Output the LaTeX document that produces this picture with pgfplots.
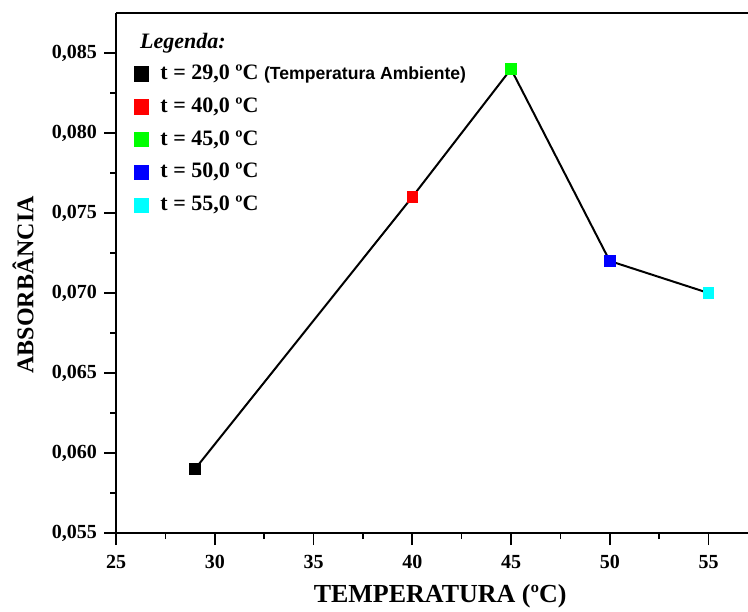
\documentclass[border=0pt]{standalone}
\usepackage{pgfplots}
\pgfplotsset{compat=1.18}
\usepackage{fontspec}
\setmainfont{Liberation Serif}
\newfontfamily\arial{Liberation Sans}
\definecolor{cyanp}{RGB}{0,255,255}
\definecolor{greenp}{RGB}{0,255,0}
\definecolor{bluep}{RGB}{0,0,255}
\definecolor{redp}{RGB}{255,0,0}
\begin{document}
\begin{tikzpicture}
\useasboundingbox (0,0) rectangle (374pt,305.5pt);
\begin{axis}[
  at={(58pt,39pt)}, anchor=south west,
  scale only axis, width=316pt, height=260pt,
  xmin=25, xmax=57, ymin=0.055, ymax=0.0875,
  axis x line*=box, axis y line*=left,
  x axis line style={-}, y axis line style={-},
  axis line style={line width=1pt},
  every tick/.style={black, line width=0.8pt},
  tick align=outside,
  xtick pos=bottom, ytick pos=left,
  major tick length=6pt, minor tick length=3pt,
  xtick={25,30,...,55},
  ytick={0.055,0.060,0.065,0.070,0.075,0.080,0.085},
  minor x tick num=1, minor y tick num=1,
  scaled y ticks=false,
  yticklabel style={/pgf/number format/.cd, fixed, fixed zerofill, precision=3, use comma},
  xticklabel style={yshift=-1.5pt},
  /pgf/number format/assume math mode=true,
  ticklabel style={font=\bfseries\fontsize{10}{12}\selectfont},
  xlabel={TEMPERATURA (ºC)},
  ylabel={ABSORBÂNCIA},
  xlabel style={font=\bfseries\fontsize{13}{15}\selectfont, at={(axis description cs:0.513,-0.121)}, anchor=center},
  ylabel style={font=\bfseries\fontsize{12}{14}\selectfont, at={(axis description cs:-0.147,0.477)}, anchor=center},
  legend image code/.code={\draw[#1] plot coordinates {(3.6pt,0pt)};},
  legend style={at={(axis description cs:0.028,0.906)}, anchor=north west,
    draw=none, fill=none, inner sep=0pt, row sep=4.6pt,
    font=\bfseries\fontsize{11}{12}\selectfont,
    nodes={inner sep=1pt, text height=7.6pt, text depth=2.2pt},
    /tikz/every odd column/.append style={column sep=5pt}},
  legend cell align=left,
]
\addplot[black, line width=1pt, mark=none, forget plot] coordinates {
 (29,0.059) (40,0.076) (45,0.084) (50,0.072) (55,0.070)};
\addplot[only marks, mark=square*, mark size=2.6pt, black, forget plot] coordinates {(29,0.059)};
\addplot[only marks, mark=square*, mark size=2.6pt, redp, forget plot] coordinates {(40,0.076)};
\addplot[only marks, mark=square*, mark size=2.6pt, greenp, forget plot] coordinates {(45,0.084)};
\addplot[only marks, mark=square*, mark size=2.6pt, bluep, forget plot] coordinates {(50,0.072)};
\addplot[only marks, mark=square*, mark size=2.6pt, cyanp, forget plot] coordinates {(55,0.070)};
\addlegendimage{only marks, mark=square*, mark size=3.6pt, black}
\addlegendentry{t = 29,0 ºC {\arial\fontsize{8.8}{10}\selectfont (Temperatura Ambiente)}}
\addlegendimage{only marks, mark=square*, mark size=3.6pt, redp}
\addlegendentry{t = 40,0 ºC}
\addlegendimage{only marks, mark=square*, mark size=3.6pt, greenp}
\addlegendentry{t = 45,0 ºC}
\addlegendimage{only marks, mark=square*, mark size=3.6pt, bluep}
\addlegendentry{t = 50,0 ºC}
\addlegendimage{only marks, mark=square*, mark size=3.6pt, cyanp}
\addlegendentry{t = 55,0 ºC}
\node[anchor=base west, font=\bfseries\itshape\fontsize{11}{12}\selectfont] at (axis description cs:0.027,0.931) {Legenda:};
\end{axis}
\end{tikzpicture}
\end{document}
